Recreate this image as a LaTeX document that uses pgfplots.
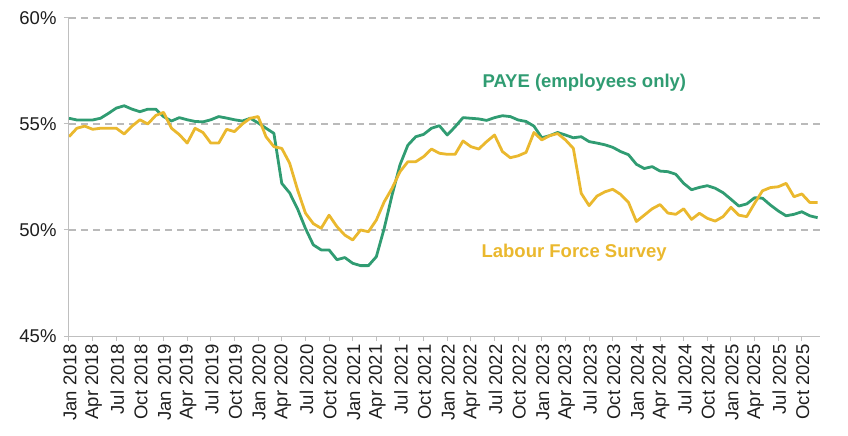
\documentclass[border=0pt]{standalone}
\usepackage{pgfplots}
\pgfplotsset{compat=1.18}
\usepackage{pgfplotstable}
\usepackage{fontspec}
\setmainfont{Liberation Sans}

\definecolor{payegreen}{RGB}{48,156,114}
\definecolor{lfsyellow}{RGB}{234,184,46}
\definecolor{axisgray}{RGB}{191,191,191}
\definecolor{gridgray}{RGB}{186,186,186}
\definecolor{labelgray}{RGB}{30,30,30}

% Employment rate by month, index 0 = Jan 2018
\pgfplotstableread{
m rate
0 55.27
1 55.19
2 55.19
3 55.19
4 55.27
5 55.5
6 55.75
7 55.86
8 55.7
9 55.58
10 55.7
11 55.7
12 55.35
13 55.14
14 55.3
15 55.2
16 55.12
17 55.1
18 55.2
19 55.35
20 55.28
21 55.2
22 55.14
23 55.27
24 55.05
25 54.8
26 54.56
27 52.2
28 51.75
29 51.0
30 50.08
31 49.3
32 49.06
33 49.06
34 48.6
35 48.7
36 48.43
37 48.32
38 48.32
39 48.74
40 50.08
41 51.65
42 53.07
43 54.0
44 54.4
45 54.51
46 54.8
47 54.92
48 54.48
49 54.87
50 55.3
51 55.27
52 55.24
53 55.17
54 55.3
55 55.39
56 55.35
57 55.19
58 55.12
59 54.9
60 54.35
61 54.45
62 54.6
63 54.48
64 54.35
65 54.4
66 54.17
67 54.1
68 54.02
69 53.9
70 53.7
71 53.55
72 53.1
73 52.9
74 52.99
75 52.78
76 52.75
77 52.63
78 52.2
79 51.9
80 52.01
81 52.09
82 51.97
83 51.76
84 51.45
85 51.13
86 51.23
87 51.52
88 51.5
89 51.18
90 50.9
91 50.67
92 50.74
93 50.86
94 50.67
95 50.58
}\paye

\pgfplotstableread{
m rate
0 54.4
1 54.8
2 54.9
3 54.75
4 54.8
5 54.8
6 54.8
7 54.53
8 54.9
9 55.2
10 55.0
11 55.4
12 55.55
13 54.8
14 54.5
15 54.1
16 54.8
17 54.6
18 54.1
19 54.1
20 54.75
21 54.64
22 55.0
23 55.27
24 55.35
25 54.4
26 53.93
27 53.85
28 53.15
29 51.9
30 50.8
31 50.3
32 50.08
33 50.7
34 50.16
35 49.76
36 49.53
37 50.0
38 49.92
39 50.47
40 51.33
41 51.97
42 52.75
43 53.22
44 53.22
45 53.46
46 53.82
47 53.62
48 53.57
49 53.57
50 54.2
51 53.93
52 53.82
53 54.17
54 54.48
55 53.7
56 53.41
57 53.5
58 53.66
59 54.6
60 54.25
61 54.45
62 54.55
63 54.25
64 53.85
65 51.73
66 51.15
67 51.6
68 51.8
69 51.92
70 51.68
71 51.3
72 50.4
73 50.7
74 51.0
75 51.2
76 50.8
77 50.74
78 51.0
79 50.5
80 50.79
81 50.55
82 50.42
83 50.63
84 51.07
85 50.7
86 50.63
87 51.26
88 51.85
89 52.0
90 52.04
91 52.2
92 51.57
93 51.7
94 51.3
95 51.3
}\lfs

\begin{document}
\begin{tikzpicture}
\path[use as bounding box] (-69bp,-100bp) rectangle (779bp,336bp);
\begin{axis}[
  at={(0,0)}, anchor=south west,
  scale only axis,
  width=751bp, height=318bp,
  xmin=0, xmax=95.3,
  ymin=45, ymax=60,
  axis x line*=bottom,
  axis y line*=left,
  axis line style={axisgray, line width=1bp},
  tick style={axisgray, line width=1bp},
  tick align=outside,
  major tick length=5bp,
  ytick={45,50,55,60},
  yticklabels={45\%,50\%,55\%,60\%},
  % dashed guides only above the bottom axis line
  extra y ticks={50,55,60},
  extra y tick labels={},
  extra y tick style={grid=major, major tick length=0pt},
  grid style={gridgray, line width=1.2bp, dash pattern=on 7bp off 5bp},
  xtick={0,3,...,93},
  xticklabels={Jan 2018,Apr 2018,Jul 2018,Oct 2018,
               Jan 2019,Apr 2019,Jul 2019,Oct 2019,
               Jan 2020,Apr 2020,Jul 2020,Oct 2020,
               Jan 2021,Apr 2021,Jul 2021,Oct 2021,
               Jan 2022,Apr 2022,Jul 2022,Oct 2022,
               Jan 2023,Apr 2023,Jul 2023,Oct 2023,
               Jan 2024,Apr 2024,Jul 2024,Oct 2024,
               Jan 2025,Apr 2025,Jul 2025,Oct 2025},
  ticklabel style={font=\fontsize{18.5bp}{22bp}\selectfont, text=labelgray},
  yticklabel style={xshift=-4bp},
  xticklabel style={rotate=90, anchor=east, yshift=-1bp},
  every axis plot/.append style={line width=2.8bp, line join=round},
]
\addplot[payegreen, no markers] table[x=m, y=rate] {\paye};
\addplot[lfsyellow, no markers] table[x=m, y=rate] {\lfs};

\node[font=\bfseries\fontsize{18.5bp}{22bp}\selectfont, text=payegreen]
  at (axis cs:65.4,56.93) {PAYE (employees only)};
\node[font=\bfseries\fontsize{18.5bp}{22bp}\selectfont, text=lfsyellow]
  at (axis cs:64.1,48.92) {Labour Force Survey};
\end{axis}
\end{tikzpicture}
\end{document}
